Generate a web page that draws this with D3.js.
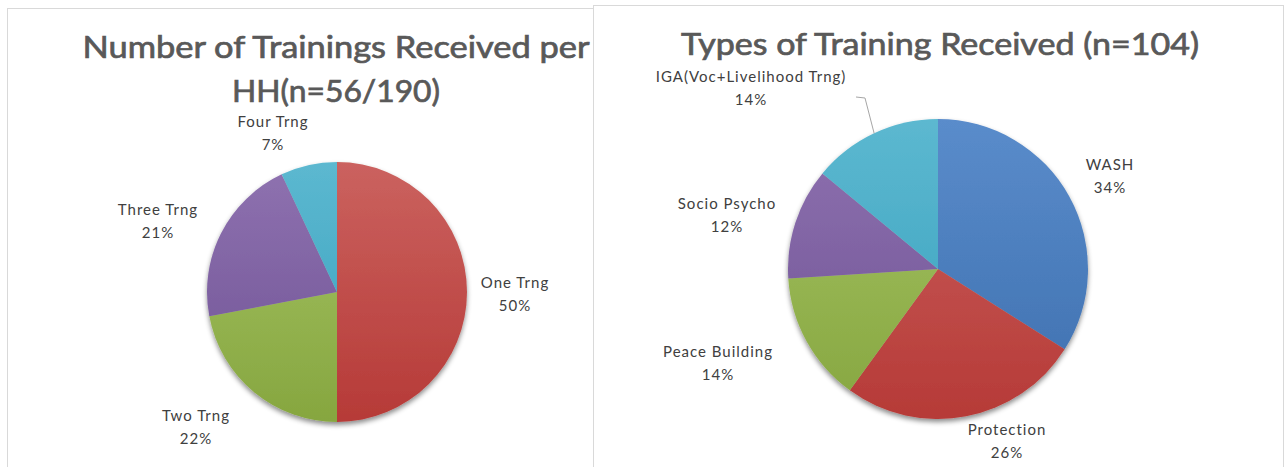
<!DOCTYPE html>
<html>
<head>
<meta charset="utf-8">
<script src="https://cdn.jsdelivr.net/npm/d3@7"></script>
<style>
  body { margin: 0; background: #fff; }
  svg { display: block; font-family: Lato, "Open Sans", sans-serif; }
  .lbl { font-size: 15px; fill: #404040; letter-spacing: 1px; }
  .ttl { font-size: 30px; fill: #595959; stroke: #595959; stroke-width: 0.7px; }
</style>
</head>
<body>
<svg width="1285" height="467"></svg>
<script>
// numero di trainings per HH
var trainCats = ["One Trng", "Two Trng", "Three Trng", "Four Trng"];
var trainVals = [50, 22, 21, 7];
// tipi di training
var typeCats = ["WASH", "Protection", "Peace Building", "Socio Psycho", "IGA(Voc+Livelihood  Trng)"];
var typeVals = [34, 26, 14, 12, 14];

var colori = {
  blu:   ["#5a8ccb", "#3d6fae"],
  rosso: ["#cb625f", "#b63a37"],
  verde: ["#a6c466", "#86a63f"],
  viola: ["#8f72b0", "#6e5294"],
  teal:  ["#5cb8d0", "#37a0bd"]
};

var svg = d3.select("svg");
var defs = svg.append("defs");

// ombra sotto la torta
var f = defs.append("filter").attr("id", "ombra")
  .attr("x", "-20%").attr("y", "-20%").attr("width", "140%").attr("height", "140%");
f.append("feDropShadow").attr("dx", 0).attr("dy", 3).attr("stdDeviation", 2.5)
  .attr("flood-color", "#000").attr("flood-opacity", 0.45);

// cornici dei due riquadri
svg.append("rect").attr("x", 7.5).attr("y", 8.5).attr("width", 586).attr("height", 480)
  .attr("fill", "#fff").attr("stroke", "#d9d9d9");
svg.append("rect").attr("x", 593.5).attr("y", 5.5).attr("width", 690).attr("height", 480)
  .attr("fill", "#fff").attr("stroke", "#d9d9d9");

function gradiente(id, c, cy, r) {
  var g = defs.append("linearGradient").attr("id", id)
    .attr("gradientUnits", "userSpaceOnUse")
    .attr("x1", 0).attr("y1", cy - r).attr("x2", 0).attr("y2", cy + r);
  g.append("stop").attr("offset", "0%").attr("stop-color", c[0]);
  g.append("stop").attr("offset", "100%").attr("stop-color", c[1]);
}

function torta(nome, cats, vals, cx, cy, r, cols, labelOff) {
  var g = svg.append("g").attr("transform", "translate(" + cx + "," + cy + ")");
  var pie = d3.pie().sort(null).value(function(d) { return d; });
  var arc = d3.arc().innerRadius(0).outerRadius(r);
  var archi = pie(vals);
  cols.forEach(function(c, i) { gradiente(nome + i, colori[c], 0, r); });
  g.append("g").attr("filter", "url(#ombra)")
    .selectAll("path").data(archi).enter().append("path")
    .attr("d", arc)
    .attr("fill", function(d, i) { return "url(#" + nome + i + ")"; });
  var tot = d3.sum(vals);
  archi.forEach(function(d, i) {
    var p = labelOff[i];
    var t = g.append("text").attr("class", "lbl").attr("text-anchor", "middle");
    t.append("tspan").attr("x", p[0]).attr("y", p[1]).text(cats[i]);
    t.append("tspan").attr("x", p[0]).attr("y", p[1] + 23)
      .text(Math.round(vals[i] / tot * 100) + "%");
  });
  return { g: g, archi: archi, r: r };
}

torta("a", trainCats, trainVals, 337, 292, 130,
  ["rosso", "verde", "viola", "teal"],
  [[178, -4], [-141, 129], [-179, -77], [-64, -165]]);

var t2 = torta("b", typeCats, typeVals, 938, 269, 150,
  ["blu", "rosso", "verde", "viola", "teal"],
  [[172, -99], [69, 166], [-220, 88], [-211, -60], [-187, -187]]);

// linea guida per IGA
var ultimo = t2.archi[4];
var am = (ultimo.startAngle + ultimo.endAngle) / 2;
var pe = [Math.sin(am) * t2.r, -Math.cos(am) * t2.r];
t2.g.append("polyline")
  .attr("points", [[-82, -172], [-73, -171], pe].map(function(p) { return p.join(","); }).join(" "))
  .attr("fill", "none").attr("stroke", "#a6a6a6").attr("stroke-width", 1);

// titoli
svg.append("text").attr("class", "ttl").attr("x", 336).attr("y", 58)
  .attr("text-anchor", "middle").attr("textLength", 507).attr("lengthAdjust", "spacingAndGlyphs")
  .text("Number of Trainings Received per");
svg.append("text").attr("class", "ttl").attr("x", 336).attr("y", 102)
  .attr("text-anchor", "middle").attr("textLength", 208).attr("lengthAdjust", "spacingAndGlyphs")
  .text("HH(n=56/190)");
svg.append("text").attr("class", "ttl").attr("x", 940).attr("y", 55)
  .attr("text-anchor", "middle").attr("textLength", 518).attr("lengthAdjust", "spacingAndGlyphs")
  .text("Types of Training Received (n=104)");
</script>
</body>
</html>
